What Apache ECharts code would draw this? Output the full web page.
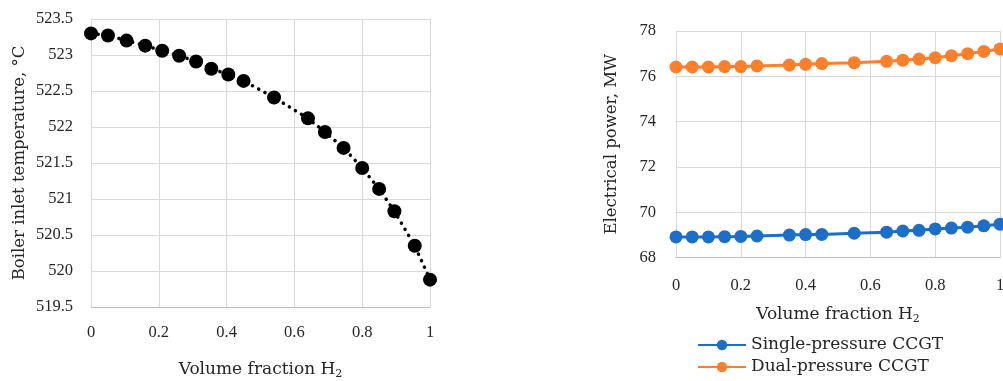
<!DOCTYPE html>
<html>
<head>
<meta charset="utf-8">
<script src="https://cdn.jsdelivr.net/npm/echarts@6/dist/echarts.min.js"></script>
<style>
html,body{margin:0;padding:0;background:#fff;}
#c{width:1003px;height:381px;}
</style>
</head>
<body>
<div id="c"></div>
<script>
// Left chart: boiler inlet temperature vs H2 volume fraction
const leftX = [0, 0.05, 0.105, 0.16, 0.21, 0.26, 0.31, 0.355, 0.405, 0.45, 0.54, 0.64, 0.69, 0.745, 0.8, 0.85, 0.895, 0.955, 1];
const leftTemp = [523.30, 523.27, 523.20, 523.13, 523.06, 522.99, 522.91, 522.81, 522.73, 522.64, 522.41, 522.12, 521.93, 521.71, 521.43, 521.14, 520.83, 520.35, 519.88];

// Right chart: electrical power vs H2 volume fraction
const rightX = [0, 0.05, 0.1, 0.15, 0.2, 0.25, 0.35, 0.4, 0.45, 0.55, 0.65, 0.7, 0.75, 0.8, 0.85, 0.9, 0.95, 1];
const singlePressure = [68.91, 68.91, 68.91, 68.92, 68.93, 68.95, 68.99, 69.01, 69.02, 69.07, 69.12, 69.17, 69.20, 69.26, 69.30, 69.34, 69.40, 69.47];
const dualPressure = [76.41, 76.41, 76.41, 76.43, 76.43, 76.46, 76.50, 76.53, 76.56, 76.60, 76.66, 76.71, 76.76, 76.82, 76.91, 77.00, 77.10, 77.21];

const seriesNames = ['Single-pressure CCGT', 'Dual-pressure CCGT'];
const xTitle = 'Volume fraction H';
const leftYTitle = 'Boiler inlet temperature, °C';
const rightYTitle = 'Electrical power, MW';

const FONT = 'Liberation Serif';
const TFONT = 'DejaVu Serif';
const TXT = '#262626';
const GRID = '#D9D9D9';
const AXIS = '#BFBFBF';

const pair = (xs, ys) => xs.map((x, i) => [x, ys[i]]);

function xAxisCfg(gridIndex, gap, margin) {
  return {
    type: 'value', gridIndex, min: 0, max: 1, interval: 0.2,
    name: '{a|' + xTitle + '}{s|2}',
    nameLocation: 'middle', nameGap: gap,
    nameTextStyle: {
      rich: {
        a: {fontFamily: TFONT, fontSize: 17, color: TXT},
        s: {fontFamily: TFONT, fontSize: 11, color: TXT, verticalAlign: 'bottom', padding: [9, 0, 0, 0]}
      }
    },
    axisLine: {show: true, lineStyle: {color: AXIS, width: 1}},
    axisTick: {show: false},
    axisLabel: {fontFamily: FONT, fontSize: 16.5, color: TXT, margin: margin},
    splitLine: {show: true, lineStyle: {color: GRID, width: 1}}
  };
}
function yAxisCfg(gridIndex, min, max, interval, name, gap, margin) {
  return {
    type: 'value', gridIndex, min, max, interval, name, nameLocation: 'middle', nameGap: gap,
    nameTextStyle: {fontFamily: TFONT, fontSize: 16.5, color: TXT},
    axisLine: {show: true, lineStyle: {color: GRID, width: 1}},
    axisTick: {show: false},
    axisLabel: {fontFamily: FONT, fontSize: 16.5, color: TXT, margin: margin},
    splitLine: {show: true, lineStyle: {color: GRID, width: 1}}
  };
}

const chart = echarts.init(document.getElementById('c'), null, {renderer: 'canvas'});
chart.setOption({
  backgroundColor: '#fff',
  animation: false,
  grid: [
    {left: 91, top: 19, width: 339, height: 288, outerBoundsMode: 'none', containLabel: false},
    {left: 676, top: 31, width: 324, height: 226.5, outerBoundsMode: 'none', containLabel: false}
  ],
  xAxis: [xAxisCfg(0, 53, 17), xAxisCfg(1, 47, 20)],
  yAxis: [
    yAxisCfg(0, 519.5, 523.5, 0.5, leftYTitle, 63, 18),
    yAxisCfg(1, 68, 78, 2, rightYTitle, 56, 20)
  ],
  legend: {
    data: seriesNames,
    orient: 'vertical',
    left: 697, top: 335, height: 46, padding: 0,
    itemWidth: 48, itemHeight: 13, itemGap: 2,
    textStyle: {fontFamily: TFONT, fontSize: 17, color: TXT, lineHeight: 20, padding: [0, 0, 0, 0]}
  },
  series: [
    {
      name: 'Boiler inlet temperature',
      type: 'line', xAxisIndex: 0, yAxisIndex: 0,
      data: pair(leftX, leftTemp),
      symbol: 'circle', symbolSize: 14,
      itemStyle: {color: '#000'},
      lineStyle: {color: '#000', width: 3.5, type: [0.1, 7], cap: 'round'},
      clip: false
    },
    {
      name: seriesNames[0],
      type: 'line', xAxisIndex: 1, yAxisIndex: 1,
      data: pair(rightX, singlePressure),
      symbol: 'circle', symbolSize: 13,
      itemStyle: {color: '#1C6FC8'},
      lineStyle: {color: '#1C6FC8', width: 3},
      clip: false
    },
    {
      name: seriesNames[1],
      type: 'line', xAxisIndex: 1, yAxisIndex: 1,
      data: pair(rightX, dualPressure),
      symbol: 'circle', symbolSize: 13,
      itemStyle: {color: '#FE7F2A'},
      lineStyle: {color: '#FE7F2A', width: 3},
      clip: false
    }
  ]
});
</script>
</body>
</html>
